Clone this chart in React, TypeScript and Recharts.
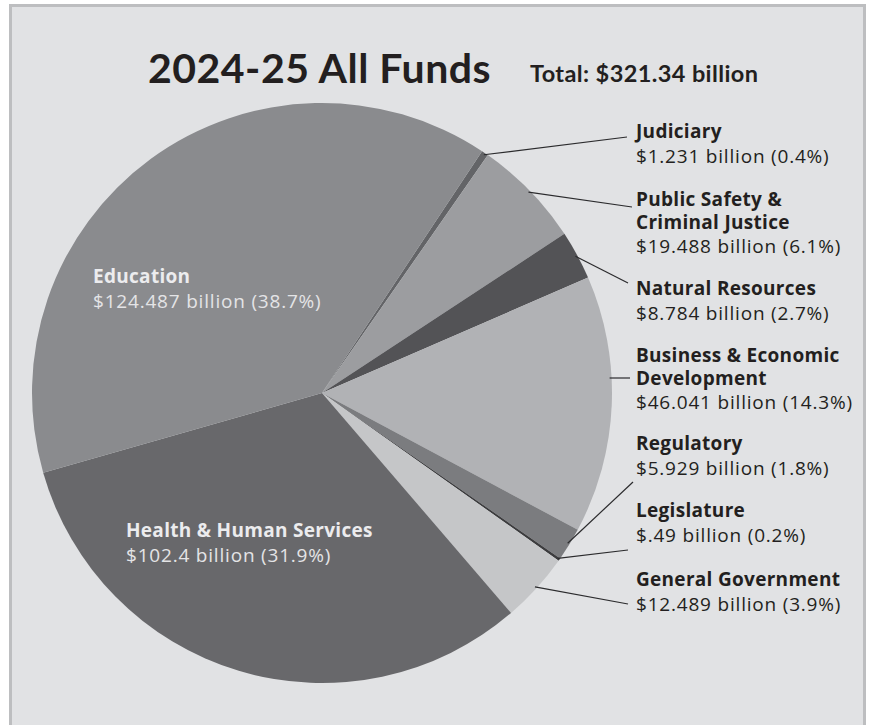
import { PieChart, Pie, Cell } from 'recharts'

const categories = [
  'Judiciary',
  'Public Safety & Criminal Justice',
  'Natural Resources',
  'Business & Economic Development',
  'Regulatory',
  'Legislature',
  'General Government',
  'Health & Human Services',
  'Education',
]
// billions of dollars, 2024-25 all funds
const amounts = [1.231, 19.488, 8.784, 46.041, 5.929, 0.49, 12.489, 102.4, 124.487]
const percents = [0.4, 6.1, 2.7, 14.3, 1.8, 0.2, 3.9, 31.9, 38.7]
const total = 321.34

const colors = ['#636467', '#9c9da0', '#535356', '#b1b2b5', '#7b7c7f', '#3c3c3e', '#c5c6c8', '#68686b', '#8a8b8e']

// how each label is broken into bold lines
const nameLines: Record<string, string[]> = {
  'Public Safety & Criminal Justice': ['Public Safety &', 'Criminal Justice'],
  'Business & Economic Development': ['Business & Economic', 'Development'],
}

// label layout: first baseline, leader end point, inside or outside the pie
const labelLayout: Record<string, { x: number; y: number; lx?: number; ly?: number; inside?: boolean; flat?: boolean }> = {
  Judiciary: { x: 636, y: 138, lx: 627, ly: 137 },
  'Public Safety & Criminal Justice': { x: 636, y: 206, lx: 632, ly: 207 },
  'Natural Resources': { x: 636, y: 295, lx: 628, ly: 283 },
  'Business & Economic Development': { x: 636, y: 362, lx: 630, ly: 378, flat: true },
  Regulatory: { x: 636, y: 450, lx: 633, ly: 482 },
  Legislature: { x: 636, y: 517, lx: 628, ly: 550 },
  'General Government': { x: 636, y: 586, lx: 628, ly: 604 },
  'Health & Human Services': { x: 126, y: 537, inside: true },
  Education: { x: 93, y: 283, inside: true },
}

const data = categories.map((name, i) => ({ name, value: amounts[i], pct: percents[i] }))

const TITLE_FONT = 'Lato, "Open Sans", sans-serif'
const FONT = '"Open Sans", Lato, sans-serif'
const RAD = Math.PI / 180

function fmtAmount(v: number) {
  return '$' + String(v).replace(/^0\./, '.') + ' billion'
}

function renderLabel(props: any) {
  const { cx, cy, midAngle, outerRadius, index } = props
  const d = data[index]
  const lay = labelLayout[d.name]
  const lines = nameLines[d.name] || [d.name]
  const valueText = `${fmtAmount(d.value)} (${d.pct.toFixed(1)}%)`
  const boldFill = lay.inside ? '#ececee' : '#231f20'
  const regFill = lay.inside ? '#e4e4e6' : '#231f20'

  let leader = null
  if (!lay.inside && lay.lx !== undefined && lay.ly !== undefined) {
    let sx: number
    let sy: number
    if (lay.flat) {
      sy = lay.ly
      sx = cx + Math.sqrt(outerRadius * outerRadius - (sy - cy) * (sy - cy)) - 2
    } else {
      sx = cx + (outerRadius - 2) * Math.cos(-midAngle * RAD)
      sy = cy + (outerRadius - 2) * Math.sin(-midAngle * RAD)
    }
    leader = <line x1={sx} y1={sy} x2={lay.lx} y2={lay.ly} stroke="#2b2b2d" strokeWidth={1.2} />
  }

  return (
    <g key={`lbl-${index}`}>
      {leader}
      <text fontFamily={FONT} fontSize={19} letterSpacing={0.3}>
        {lines.map((ln, k) => (
          <tspan key={k} x={lay.x} y={lay.y + k * 22.5} fontWeight={700} fill={boldFill}>
            {ln}
          </tspan>
        ))}
        <tspan x={lay.x} y={lay.y + (lines.length - 1) * 22.5 + 24.5} fill={regFill} letterSpacing={0.8}>
          {valueText}
        </tspan>
      </text>
    </g>
  )
}

export default function App() {
  return (
    <div style={{ position: 'absolute', left: 0, top: 0, width: 871, height: 725, background: '#fff', overflow: 'hidden' }}>
      <div
        style={{
          position: 'absolute',
          left: 9,
          top: 4,
          width: 851,
          height: 740,
          background: '#e1e2e4',
          border: '3px solid #bdbec0',
          borderBottom: 'none',
        }}
      />
      <div style={{ position: 'absolute', left: 0, top: 0 }}>
        <PieChart width={871} height={725} margin={{ top: 0, right: 0, bottom: 0, left: 0 }}>
          <text x={148} y={83} fontFamily={TITLE_FONT} fontWeight={700} fontSize={41} letterSpacing={0.5} fill="#231f20">
            2024-25 All Funds
          </text>
          <text x={530} y={82} fontFamily={TITLE_FONT} fontWeight={700} fontSize={23.5} letterSpacing={0.4} fill="#231f20">
            {`Total: $${total} billion`}
          </text>
          <Pie
            data={data}
            dataKey="value"
            nameKey="name"
            cx={322}
            cy={393}
            outerRadius={290}
            startAngle={56.5}
            endAngle={-303.5}
            stroke="none"
            label={renderLabel}
            labelLine={false}
            isAnimationActive={false}
          >
            {data.map((d, i) => (
              <Cell key={d.name} fill={colors[i]} />
            ))}
          </Pie>
        </PieChart>
      </div>
    </div>
  )
}
